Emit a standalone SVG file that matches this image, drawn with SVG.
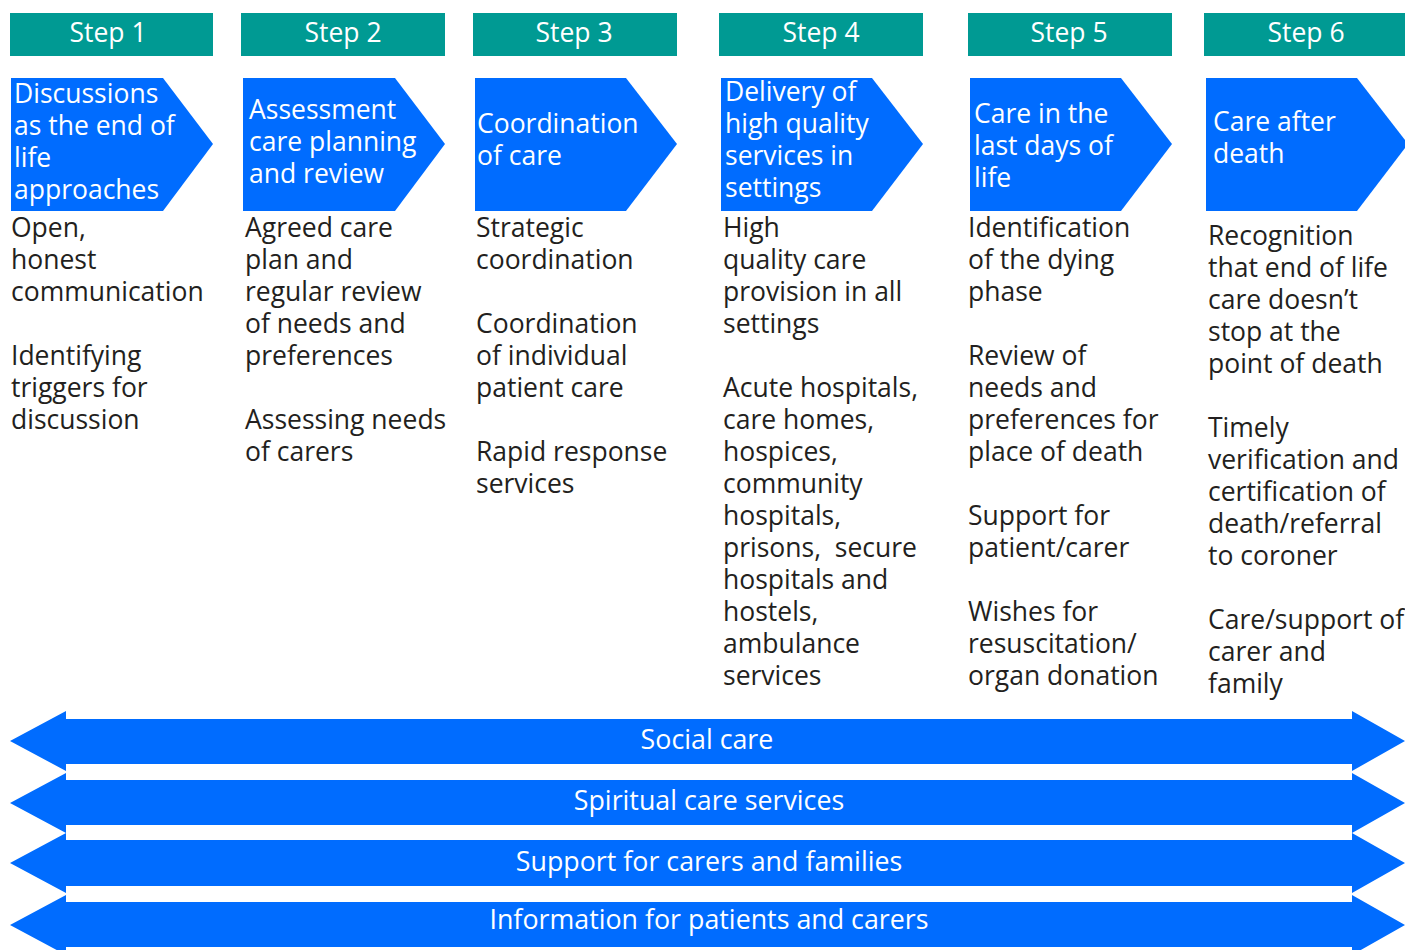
<svg xmlns="http://www.w3.org/2000/svg" width="1405" height="950" viewBox="0 0 1405 950">
<style>
.hdr{fill:#009A93}
.blue{fill:#006CFF}
.ht{font-family:"Open Sans","Noto Sans",sans-serif;font-size:26.5px;fill:#fff;text-anchor:middle}
.wt{font-family:"Open Sans","Noto Sans",sans-serif;font-size:26.5px;fill:#fff}
.bt{font-family:"Open Sans","Noto Sans",sans-serif;font-size:26.5px;fill:#231F20}
.bar{font-family:"Open Sans","Noto Sans",sans-serif;font-size:26.8px;fill:#fff;text-anchor:middle}
</style>
<rect width="1405" height="950" fill="#fff"/>

<g id="step1">
<rect class="hdr" x="10" y="13" width="203" height="43"/>
<text class="ht" x="108" y="42">Step 1</text>
<polygon class="blue" points="11,78 163,78 213,144 163,211 11,211"/>
<text class="wt"><tspan x="14" y="103">Discussions</tspan><tspan x="14" y="135">as the end of</tspan><tspan x="14" y="167">life</tspan><tspan x="14" y="199">approaches</tspan></text>
<text class="bt"><tspan x="11" y="237">Open,</tspan><tspan x="11" y="269">honest</tspan><tspan x="11" y="301">communication</tspan><tspan x="11" y="365">Identifying</tspan><tspan x="11" y="397">triggers for</tspan><tspan x="11" y="429">discussion</tspan></text>
</g>

<g id="step2">
<rect class="hdr" x="241" y="13" width="204" height="43"/>
<text class="ht" x="343" y="42">Step 2</text>
<polygon class="blue" points="243,78 395,78 445,144 395,211 243,211"/>
<text class="wt"><tspan x="249" y="119">Assessment</tspan><tspan x="249" y="151">care planning</tspan><tspan x="249" y="183">and review</tspan></text>
<text class="bt"><tspan x="245" y="237">Agreed care</tspan><tspan x="245" y="269">plan and</tspan><tspan x="245" y="301">regular review</tspan><tspan x="245" y="333">of needs and</tspan><tspan x="245" y="365">preferences</tspan><tspan x="245" y="429">Assessing needs</tspan><tspan x="245" y="461">of carers</tspan></text>
</g>

<g id="step3">
<rect class="hdr" x="473" y="13" width="204" height="43"/>
<text class="ht" x="574" y="42">Step 3</text>
<polygon class="blue" points="475,78 626,78 677,144 626,211 475,211"/>
<text class="wt"><tspan x="477" y="133">Coordination</tspan><tspan x="477" y="165">of care</tspan></text>
<text class="bt"><tspan x="476" y="237">Strategic</tspan><tspan x="476" y="269">coordination</tspan><tspan x="476" y="333">Coordination</tspan><tspan x="476" y="365">of individual</tspan><tspan x="476" y="397">patient care</tspan><tspan x="476" y="461">Rapid response</tspan><tspan x="476" y="493">services</tspan></text>
</g>

<g id="step4">
<rect class="hdr" x="719" y="13" width="204" height="43"/>
<text class="ht" x="821" y="42">Step 4</text>
<polygon class="blue" points="721,78 872,78 923,144 872,211 721,211"/>
<text class="wt"><tspan x="725" y="101">Delivery of</tspan><tspan x="725" y="133">high quality</tspan><tspan x="725" y="165">services in</tspan><tspan x="725" y="197">settings</tspan></text>
<text class="bt"><tspan x="723" y="237">High</tspan><tspan x="723" y="269">quality care</tspan><tspan x="723" y="301">provision in all</tspan><tspan x="723" y="333">settings</tspan><tspan x="723" y="397">Acute hospitals,</tspan><tspan x="723" y="429">care homes,</tspan><tspan x="723" y="461">hospices,</tspan><tspan x="723" y="493">community</tspan><tspan x="723" y="525">hospitals,</tspan><tspan x="723" y="557" xml:space="preserve">prisons,  secure</tspan><tspan x="723" y="589">hospitals and</tspan><tspan x="723" y="621">hostels,</tspan><tspan x="723" y="653">ambulance</tspan><tspan x="723" y="685">services</tspan></text>
</g>

<g id="step5">
<rect class="hdr" x="968" y="13" width="204" height="43"/>
<text class="ht" x="1069" y="42">Step 5</text>
<polygon class="blue" points="970,78 1121,78 1172,144 1121,211 970,211"/>
<text class="wt"><tspan x="974" y="123">Care in the</tspan><tspan x="974" y="155">last days of</tspan><tspan x="974" y="187">life</tspan></text>
<text class="bt"><tspan x="968" y="237">Identification</tspan><tspan x="968" y="269">of the dying</tspan><tspan x="968" y="301">phase</tspan><tspan x="968" y="365">Review of</tspan><tspan x="968" y="397">needs and</tspan><tspan x="968" y="429">preferences for</tspan><tspan x="968" y="461">place of death</tspan><tspan x="968" y="525">Support for</tspan><tspan x="968" y="557">patient/carer</tspan><tspan x="968" y="621">Wishes for</tspan><tspan x="968" y="653">resuscitation/</tspan><tspan x="968" y="685">organ donation</tspan></text>
</g>

<g id="step6">
<rect class="hdr" x="1204" y="13" width="201" height="43"/>
<text class="ht" x="1306" y="42">Step 6</text>
<polygon class="blue" points="1206,78 1357,78 1408,144 1357,211 1206,211"/>
<text class="wt"><tspan x="1213" y="131">Care after</tspan><tspan x="1213" y="163">death</tspan></text>
<text class="bt"><tspan x="1208" y="245">Recognition</tspan><tspan x="1208" y="277">that end of life</tspan><tspan x="1208" y="309">care doesn’t</tspan><tspan x="1208" y="341">stop at the</tspan><tspan x="1208" y="373">point of death</tspan><tspan x="1208" y="437">Timely</tspan><tspan x="1208" y="469">verification and</tspan><tspan x="1208" y="501">certification of</tspan><tspan x="1208" y="533">death/referral</tspan><tspan x="1208" y="565">to coroner</tspan><tspan x="1208" y="629">Care/support of</tspan><tspan x="1208" y="661">carer and</tspan><tspan x="1208" y="693">family</tspan></text>
</g>

<g id="connectors"></g>

<g id="band-social">
<polygon class="blue" points="10,741 66,711 66,719 1352,719 1352,711 1405,741 1352,771 1352,764 66,764 66,771"/>
<text class="bar" x="707" y="749">Social care</text>
</g>
<g id="band-spiritual">
<polygon class="blue" points="10,803 66,773 66,780 1352,780 1352,773 1405,803 1352,833 1352,825 66,825 66,833"/>
<text class="bar" x="709" y="810">Spiritual care services</text>
</g>
<g id="band-support">
<polygon class="blue" points="10,863 66,833 66,840 1352,840 1352,833 1405,863 1352,893 1352,886 66,886 66,893"/>
<text class="bar" x="709" y="871">Support for carers and families</text>
</g>
<g id="band-information">
<polygon class="blue" points="10,925 66,895 66,902 1352,902 1352,895 1405,925 1352,955 1352,947 66,947 66,955"/>
<text class="bar" x="709" y="929">Information for patients and carers</text>
</g>
</svg>
